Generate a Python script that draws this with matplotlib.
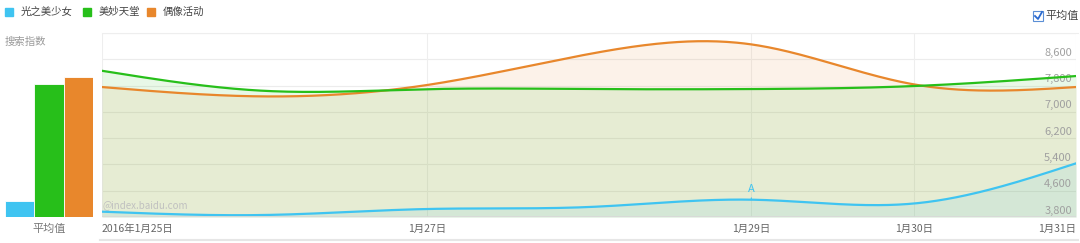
import matplotlib.pyplot as plt
from matplotlib.patches import Rectangle
from matplotlib.lines import Line2D
import numpy as np

plt.rcParams['font.family'] = ['Noto Sans CJK SC', 'DejaVu Sans']

# data (daily search index, 2016-01-25 .. 2016-01-31)
days = [25, 26, 27, 28, 29, 30, 31]
series_names = ['光之美少女', '美妙天堂', '偶像活动']
guang = [3962, 3861, 4043, 4104, 4327, 4210, 5433]
meimiao = [8250, 7640, 7690, 7694, 7694, 7785, 8090]
ouxiang = [7755, 7470, 7815, 8760, 9053, 7837, 7755]
colors = ['#3fc4f1', '#27bf1a', '#e8872c']

xtick_days = [25, 27, 29, 30, 31]
xtick_labels = ['2016年1月25日', '1月27日', '1月29日', '1月30日', '1月31日']
yticks = [3800, 4600, 5400, 6200, 7000, 7800, 8600, 9400]
ymin, ymax = 3800, 9400
mark_day = 29   # the "A" marker on 光之美少女

W, H = 1080, 243


def natural_spline(x, y, n=400):
    # smooth curve through the points, like the web chart does
    x = np.asarray(x, float)
    y = np.asarray(y, float)
    k = len(x)
    h = np.diff(x)
    A = np.zeros((k, k))
    b = np.zeros(k)
    A[0, 0] = A[-1, -1] = 1
    for i in range(1, k - 1):
        A[i, i - 1] = h[i - 1]
        A[i, i] = 2 * (h[i - 1] + h[i])
        A[i, i + 1] = h[i]
        b[i] = 6 * ((y[i + 1] - y[i]) / h[i] - (y[i] - y[i - 1]) / h[i - 1])
    M = np.linalg.solve(A, b)
    xs = np.linspace(x[0], x[-1], n)
    idx = np.clip(np.searchsorted(x, xs) - 1, 0, k - 2)
    x0, x1 = x[idx], x[idx + 1]
    hh = x1 - x0
    t0, t1 = x1 - xs, xs - x0
    ys = (M[idx] * t0**3 + M[idx + 1] * t1**3) / (6 * hh) \
        + (y[idx] / hh - M[idx] * hh / 6) * t0 + (y[idx + 1] / hh - M[idx + 1] * hh / 6) * t1
    return xs, ys


def fx(px):
    return px / W


def fy(py):
    return 1 - py / H


fig = plt.figure(figsize=(W / 100, H / 100), dpi=100)

# main line chart
ax = fig.add_axes([fx(102), fy(217), fx(1076 - 102), (217 - 33) / H])
ax.set_xlim(days[0], days[-1])
ax.set_ylim(ymin, ymax)
for s in ax.spines.values():
    s.set_visible(False)
ax.set_yticks([])
for yv in yticks:
    ax.axhline(yv, color='#ececec', lw=0.8, zorder=0)
ax.axhline(ymin, color='#d8d8d8', lw=1.2, zorder=5)
for d in xtick_days:
    ax.axvline(d, color='#eeeeee', lw=0.8, zorder=0)

# fills first (orange, green, blue) then lines
all_series = [guang, meimiao, ouxiang]
for vals, c in zip(all_series[::-1], colors[::-1]):
    xs, ys = natural_spline(days, vals)
    ax.fill_between(xs, ys, ymin, color=c, alpha=0.1, lw=0, zorder=1)

for yv in yticks[:-1]:
    ax.annotate(f'{yv:,}', xy=(1, yv), xycoords=('axes fraction', 'data'),
                xytext=(-3, 1), textcoords='offset points', ha='right', va='bottom',
                fontsize=8, color='#a0a0a0', zorder=2)

ax.text(0.001, 0.035, '@index.baidu.com', transform=ax.transAxes, fontsize=7,
        color='#c0c0c0', ha='left', va='bottom', zorder=2)

for vals, c in zip(all_series[::-1], colors[::-1]):
    xs, ys = natural_spline(days, vals)
    ax.plot(xs, ys, color=c, lw=1.6, zorder=3, solid_capstyle='round')

# "A" marker
yA = guang[days.index(mark_day)]
ax.annotate('', xy=(mark_day, yA), xytext=(mark_day, yA + 140),
            arrowprops=dict(arrowstyle='-', color=colors[0], lw=0.8))
ax.text(mark_day, yA + 160, 'A', color=colors[0], fontsize=8, ha='center', va='bottom')

ax.set_xticks(xtick_days)
ax.set_xticklabels(xtick_labels, fontsize=7.5, color='#666666')
ax.tick_params(axis='x', length=0, pad=5)
tl = ax.get_xticklabels()
tl[0].set_ha('left')
tl[-1].set_ha('right')

# average bars on the left, same value scale
axb = fig.add_axes([fx(5), fy(217), fx(93 - 5), (217 - 33) / H])
avgs = [np.mean(v) for v in all_series]
axb.bar(range(3), [a - ymin for a in avgs], bottom=ymin, width=1.0,
        color=colors, edgecolor='white', linewidth=0.6)
axb.set_xlim(-0.5, 2.5)
axb.set_ylim(ymin, ymax)
axb.axis('off')
fig.text(fx(49), fy(229), '平均值', fontsize=8, color='#777777', ha='center', va='center')

# legend along the top
leg_x = [5, 83, 147]
for i, (name, c) in enumerate(zip(series_names, colors)):
    fig.add_artist(Rectangle((fx(leg_x[i]), fy(16)), fx(8), 8 / H,
                             transform=fig.transFigure, color=c))
    fig.text(fx(leg_x[i] + 16), fy(12), name, fontsize=7.5, color='#444444',
             ha='left', va='center')

fig.text(fx(5), fy(42), '搜索指数', fontsize=7.5, color='#999999', ha='left', va='center')

# checkbox "平均值" top right
fig.add_artist(Rectangle((fx(1033), fy(21)), fx(10), 10 / H, transform=fig.transFigure,
                         facecolor='white', edgecolor='#5b8fd6', lw=0.8))
fig.add_artist(Line2D([fx(1035), fx(1038), fx(1042)], [fy(16), fy(19), fy(12)],
                      transform=fig.transFigure, color='#2a6ad0', lw=1.3))
fig.text(fx(1045), fy(16), '平均值', fontsize=8, color='#444444', ha='left', va='center')

# separator line under the date labels
fig.add_artist(Line2D([fx(100), fx(1078)], [fy(240), fy(240)], transform=fig.transFigure,
                      color='#e6e6e6', lw=1.5))
fig.add_artist(Line2D([fx(102), fx(1078)], [fy(33), fy(33)], transform=fig.transFigure,
                      color='#eeeeee', lw=0.8))

fig.savefig('out.png', dpi=100)
